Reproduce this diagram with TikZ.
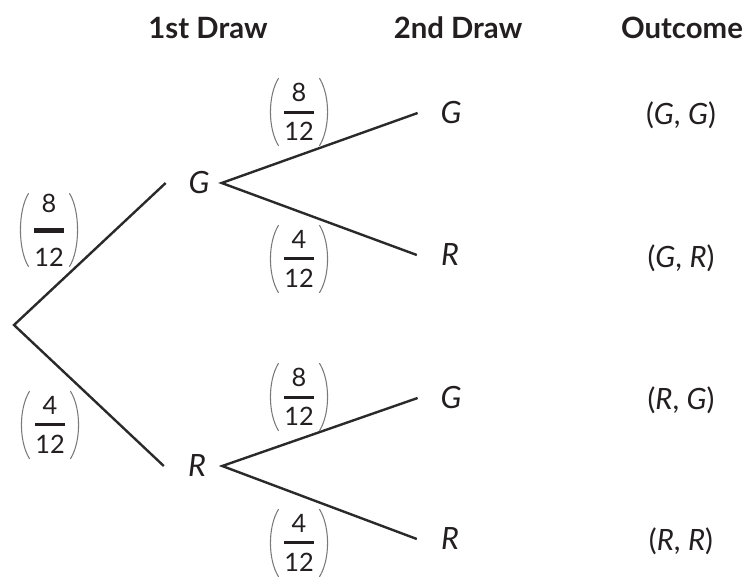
\documentclass[tikz,border=0pt]{standalone}
\usepackage{fontspec}
\setmainfont{Lato}
\usepackage{amsmath}
\usetikzlibrary{calc}
\definecolor{ink}{HTML}{231F20}
\definecolor{linec}{HTML}{2A2A2A}
\definecolor{parc}{HTML}{7A7A7A}
% name, x, y, numerator, denominator, bar thickness
\newcommand{\probfrac}[6]{%
  \node[frc] (#1) at (#2,#3) {\(\genfrac{}{}{#6}{0}{\mbox{#4}}{\mbox{#5}}\)};
  \draw[paren] ($(#1.north west)+(-3pt,0pt)$) .. controls ($(#1.north west)+(-11pt,-13pt)$) and ($(#1.south west)+(-11pt,13pt)$) .. ($(#1.south west)+(-3pt,0pt)$);
  \draw[paren] ($(#1.north east)+(3pt,0pt)$) .. controls ($(#1.north east)+(11pt,-13pt)$) and ($(#1.south east)+(11pt,13pt)$) .. ($(#1.south east)+(3pt,0pt)$);
}
\begin{document}
\begin{tikzpicture}[x=0.75pt,y=-0.75pt,
  hdr/.style={font=\fontsize{22}{26}\selectfont\bfseries, text=ink},
  lett/.style={font=\fontsize{23}{26}\selectfont\itshape, text=ink, inner sep=0pt},
  outc/.style={font=\fontsize{22}{26}\selectfont, text=ink},
  frc/.style={font=\fontsize{19}{22}\selectfont, text=ink, inner xsep=0pt, inner ysep=0pt, minimum height=50pt},
  paren/.style={draw=parc, line width=0.8pt, line cap=round},
  br/.style={line width=1.8pt, draw=linec, line join=miter}]
\useasboundingbox (0,0) rectangle (752,577);
% headers
\node[hdr] (h1) at (208,28) {1st Draw};
\node[hdr] (h2) at (458,28) {2nd Draw};
\node[hdr] (h3) at (682,28) {Outcome};
% tree nodes
\coordinate (root) at (14,325);
\node[lett] (G1) at (199,183) {G};
\node[lett] (R1) at (197,466) {R};
\node[lett] (GG) at (451,113) {G};
\node[lett] (GR) at (450,255) {R};
\node[lett] (RG) at (451,398) {G};
\node[lett] (RR) at (450,539) {R};
% branches
\draw[br] ([xshift=-17pt]G1.west) -- (root) -- ([xshift=-18pt]R1.west);
\draw[br] ([xshift=-17pt]GG.west) -- ([xshift=9pt]G1.east) -- ([xshift=-18pt]GR.west);
\draw[br] ([xshift=-17pt]RG.west) -- ([xshift=12pt]R1.east) -- ([xshift=-18pt]RR.west);
% probabilities
\probfrac{f1}{49}{230}{8}{12}{3.8pt}
\probfrac{f2}{50}{425}{4}{12}{2.2pt}
\probfrac{f3}{299}{112}{8}{12}{2.2pt}
\probfrac{f4}{299}{259}{4}{12}{2.2pt}
\probfrac{f5}{299}{397}{8}{12}{2.2pt}
\probfrac{f6}{299}{543}{4}{12}{2.2pt}
% outcomes
\node[outc] (oGG) at (681,115) {(\textit{G}, \textit{G})};
\node[outc] (oGR) at (681,258) {(\textit{G}, \textit{R})};
\node[outc] (oRG) at (681,400) {(\textit{R}, \textit{G})};
\node[outc] (oRR) at (681,541) {(\textit{R}, \textit{R})};
\end{tikzpicture}
\end{document}
